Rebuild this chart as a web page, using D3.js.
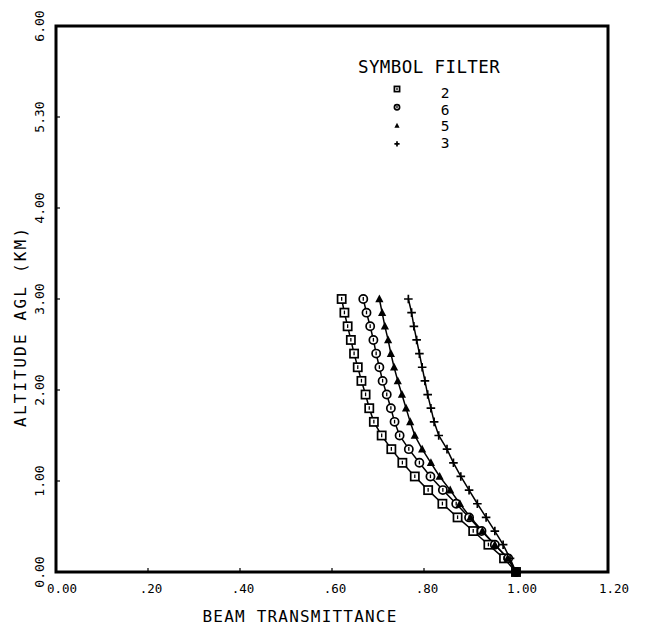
<!DOCTYPE html>
<html><head><meta charset="utf-8">
<script src="https://cdn.jsdelivr.net/npm/d3@7"></script>
<style>body{margin:0;background:#fff}svg{display:block}text{font-family:"DejaVu Sans Mono",monospace;fill:#000}</style>
</head><body><div id="chart"></div>
<script>
const altitudes = [0,0.15,0.30,0.45,0.60,0.75,0.90,1.05,1.20,1.35,1.50,1.65,1.80,1.95,2.10,2.25,2.40,2.55,2.70,2.85,3.00];
const filter2 = [1.0,0.974,0.940,0.907,0.873,0.840,0.809,0.780,0.753,0.729,0.708,0.691,0.681,0.673,0.664,0.656,0.648,0.641,0.634,0.627,0.621];
const filter6 = [1.0,0.983,0.954,0.925,0.898,0.870,0.841,0.814,0.790,0.767,0.747,0.736,0.728,0.719,0.710,0.703,0.696,0.690,0.683,0.675,0.668];
const filter5 = [1.0,0.982,0.954,0.927,0.901,0.878,0.857,0.834,0.815,0.796,0.780,0.770,0.761,0.752,0.743,0.735,0.728,0.722,0.715,0.709,0.703];
const filter3 = [1.0,0.987,0.972,0.954,0.935,0.916,0.898,0.880,0.864,0.850,0.832,0.822,0.815,0.808,0.802,0.796,0.790,0.784,0.778,0.773,0.766];
const seriesNames = ["2","6","5","3"];
const seriesSymbols = ["square","circle","triangle","plus"];
const xTicks = [0,0.2,0.4,0.6,0.8,1.0,1.2];
const xTickLabels = ["0.00",".20",".40",".60",".80","1.00","1.20"];
const yTicks = [0,1,2,3,4,5,6];
const yTickLabels = ["0.00","1.00","2.00","3.00","4.00","5.30","6.00"];
const xTitle = "BEAM TRANSMITTANCE";
const yTitle = "ALTITUDE AGL (KM)";
const legendTitle = "SYMBOL FILTER";

const W=649,H=633;
const svg=d3.select("#chart").append("svg").attr("width",W).attr("height",H);
const x=d3.scaleLinear().domain([0,1.2]).range([56,608]);
const y=d3.scaleLinear().domain([0,6]).range([572,26]);

// ticks (inward)
svg.append("g").selectAll("line").data(xTicks).join("line")
 .attr("x1",d=>x(d)).attr("x2",d=>x(d)).attr("y1",y(0)).attr("y2",y(0)-4).attr("stroke","#000").attr("stroke-width",1.2);
svg.append("g").selectAll("line").data(yTicks).join("line")
 .attr("y1",d=>y(d)).attr("y2",d=>y(d)).attr("x1",x(0)).attr("x2",x(0)+4).attr("stroke","#000").attr("stroke-width",1.2);

// frame
svg.append("rect").attr("x",x(0)).attr("y",y(6)).attr("width",x(1.2)-x(0)).attr("height",y(0)-y(6))
 .attr("fill","none").attr("stroke","#000").attr("stroke-width",3);

// tick labels
svg.append("g").selectAll("text").data(xTicks).join("text")
 .attr("x",(d,i)=>x(d)+ (xTickLabels[i].length===3?3:6)).attr("y",y(0)+21)
 .attr("text-anchor","middle").attr("font-size",12.5).text((d,i)=>xTickLabels[i]);
svg.append("g").selectAll("text").data(yTicks).join("text")
 .attr("transform",d=>`translate(${x(0)-12},${y(d)}) rotate(-90)`)
 .attr("text-anchor","middle").attr("font-size",13).text((d,i)=>yTickLabels[i]);

// titles
svg.append("text").attr("x",300).attr("y",622).attr("text-anchor","middle")
 .attr("font-size",16).attr("letter-spacing",1.2).text(xTitle);
svg.append("text").attr("transform",`translate(26,${y(2.7)}) rotate(-90)`).attr("text-anchor","middle")
 .attr("font-size",16).attr("letter-spacing",2.2).text(yTitle);

// symbols
function drawSymbol(g,type,cx,cy,s){
  if(type==="square"){
    g.append("rect").attr("x",cx-s).attr("y",cy-s).attr("width",2*s).attr("height",2*s)
     .attr("fill","#fff").attr("stroke","#000").attr("stroke-width",1.7);
    g.append("line").attr("x1",cx).attr("x2",cx).attr("y1",cy-s*0.5).attr("y2",cy+s*0.4).attr("stroke","#000").attr("stroke-width",1.3);
  } else if(type==="circle"){
    g.append("circle").attr("cx",cx).attr("cy",cy).attr("r",s).attr("fill","#fff").attr("stroke","#000").attr("stroke-width",1.7);
    g.append("line").attr("x1",cx).attr("x2",cx).attr("y1",cy-s*0.5).attr("y2",cy+s*0.4).attr("stroke","#000").attr("stroke-width",1.3);
  } else if(type==="triangle"){
    g.append("path").attr("d",`M${cx},${cy-s*1.1}L${cx+s},${cy+s*0.8}L${cx-s},${cy+s*0.8}Z`).attr("fill","#000");
  } else {
    g.append("path").attr("d",`M${cx-s},${cy}H${cx+s}M${cx},${cy-s}V${cy+s}`).attr("stroke","#000").attr("stroke-width",1.7);
  }
}

const allSeries=[filter2,filter6,filter5,filter3];
const line=d3.line().x(d=>x(d[0])).y(d=>y(d[1]));
allSeries.forEach((vals,si)=>{
  const pts=vals.map((v,i)=>[v,altitudes[i]]);
  svg.append("path").attr("d",line(pts)).attr("fill","none").attr("stroke","#000").attr("stroke-width",1.5);
});
allSeries.forEach((vals,si)=>{
  const g=svg.append("g");
  vals.forEach((v,i)=>drawSymbol(g,seriesSymbols[si],x(v),y(altitudes[i]),seriesSymbols[si]==="plus"?4.3:4.1));
});
// bottom convergence blob
svg.append("circle").attr("cx",x(1.0)).attr("cy",y(0)).attr("r",4.5).attr("fill","#000");

// legend
const lg=svg.append("g");
lg.append("text").attr("x",358).attr("y",73).attr("font-size",17.5).attr("letter-spacing",0.4).text(legendTitle);
seriesNames.forEach((n,i)=>{
  drawSymbol(lg,seriesSymbols[i],397,89+i*18.3,2.6);
  lg.append("text").attr("x",445).attr("y",98+i*16.5).attr("text-anchor","middle").attr("font-size",14.5).text(n);
});
</script></body></html>
